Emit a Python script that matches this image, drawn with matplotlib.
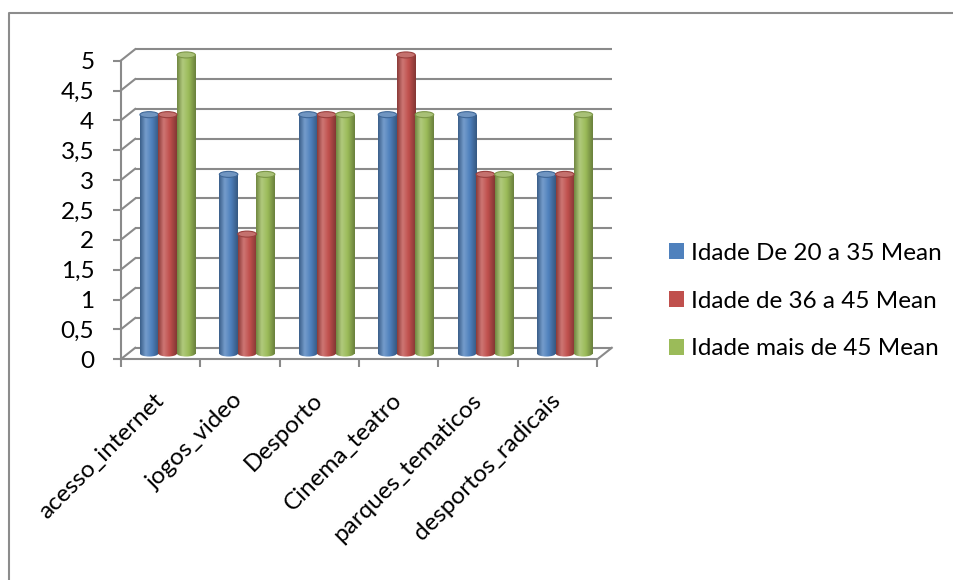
import matplotlib
matplotlib.use("Agg")
import matplotlib.pyplot as plt
import numpy as np
from matplotlib.colors import LinearSegmentedColormap, to_rgb
from matplotlib.patches import Ellipse, Patch
from matplotlib.lines import Line2D

categories = ["acesso_internet", "jogos_video", "Desporto", "Cinema_teatro",
              "parques_tematicos", "desportos_radicais"]
series_names = ["Idade De 20 a 35 Mean", "Idade de 36 a 45 Mean", "Idade mais de 45 Mean"]
age_20_35 = [4, 3, 4, 4, 4, 3]
age_36_45 = [4, 2, 4, 5, 3, 3]
age_45_plus = [5, 3, 4, 4, 3, 4]
y_ticks = [0, 0.5, 1, 1.5, 2, 2.5, 3, 3.5, 4, 4.5, 5]
y_tick_labels = ["0", "0,5", "1", "1,5", "2", "2,5", "3", "3,5", "4", "4,5", "5"]

colors = ["#4F81BD", "#C0504D", "#9BBB59"]
grid_color = "#8a8a8a"
font = "Lato"
fsize = 17.5

W, H, DPI = 954, 580, 100
fig = plt.figure(figsize=(W / DPI, H / DPI), dpi=DPI)

# front plane of the 3-D box (pixels from top-left)
left_px, right_px = 120.7, 597.3
base_px, top_px = 359.3, 60.7
ax = fig.add_axes([left_px / W, 1 - base_px / H,
                   (right_px - left_px) / W, (base_px - top_px) / H])
n = len(categories)
ax.set_xlim(-0.5, n - 0.5)
ax.set_ylim(0, 5)
ax.set_autoscale_on(False)
ax.patch.set_visible(False)

# depth of the box, converted to data units
cat_px = (right_px - left_px) / n
val_px = (base_px - top_px) / 5
ddx = 14.5 / cat_px
ddy = 11.5 / val_px

# back wall and side wall gridlines
for v in y_ticks:
    ax.plot([-0.5 + ddx, n - 0.5 + ddx], [v + ddy, v + ddy], color=grid_color,
            lw=1.5, zorder=1, clip_on=False, solid_capstyle="butt")
    ax.plot([-0.5, -0.5 + ddx], [v, v + ddy], color=grid_color,
            lw=1.5, zorder=1, clip_on=False)
# right edge of the floor
ax.plot([n - 0.5, n - 0.5 + ddx], [0, ddy], color=grid_color, lw=1.5,
        zorder=1, clip_on=False)

# front axes
for side in ["top", "right"]:
    ax.spines[side].set_visible(False)
for side in ["left", "bottom"]:
    ax.spines[side].set_color(grid_color)
    ax.spines[side].set_linewidth(1.5)

ax.set_yticks(y_ticks)
ax.set_yticklabels(y_tick_labels, fontsize=fsize, family=font)
ax.tick_params(axis="y", length=6, width=1.5, color=grid_color, pad=13)

ax.set_xticks(np.arange(n + 1) - 0.5)
ax.set_xticklabels([])
ax.tick_params(axis="x", which="major", length=6, width=1.5, color=grid_color)
ax.set_xticks(np.arange(n), minor=True)
ax.set_xticklabels(categories, minor=True, fontsize=fsize, family=font,
                   rotation=45, ha="right", va="center", rotation_mode="anchor")
ax.tick_params(axis="x", which="minor", length=0, pad=27)

# cylinder bars
bw = 18.5 / cat_px
ell_h = 6 / val_px
grad = np.linspace(0, 1, 64)[None, :]
series = [age_20_35, age_36_45, age_45_plus]
for j, (vals, c) in enumerate(zip(series, colors)):
    rgb = np.array(to_rgb(c))
    light = rgb + (1 - rgb) * 0.22
    cmap = LinearSegmentedColormap.from_list(
        "cyl%d" % j,
        [(0, rgb * 0.72), (0.3, light), (0.62, rgb), (1, rgb * 0.68)])
    x = np.arange(n) + (j - 1) * bw + ddx / 2
    bars = ax.bar(x, vals, width=bw, bottom=ddy / 2, color="none",
                  edgecolor="none", zorder=3)
    for rect in bars:
        x0 = rect.get_x()
        y0 = rect.get_y()
        h = rect.get_height()
        bottom_cap = Ellipse((x0 + bw / 2, y0), bw, ell_h, facecolor="none",
                             edgecolor="none")
        ax.add_patch(bottom_cap)
        for clip in (rect, bottom_cap):
            im = ax.imshow(grad, cmap=cmap, aspect="auto", zorder=3,
                           extent=[x0, x0 + bw, y0 - ell_h, y0 + h],
                           interpolation="bicubic")
            im.set_clip_path(clip)
        ax.add_patch(Ellipse((x0 + bw / 2, y0 + h), bw, ell_h,
                             facecolor=light * 0.95, edgecolor=rgb * 0.8,
                             lw=0.8, zorder=4, clip_on=False))

ax.set_xlim(-0.5, n - 0.5)
ax.set_ylim(0, 5)

# legend
handles = [Patch(facecolor=c, edgecolor="none") for c in colors]
fig.legend(handles, series_names, loc="center left",
           bbox_to_anchor=(669 / W, 1 - 301 / H), frameon=False,
           prop={"family": font, "size": fsize},
           handlelength=0.62, handleheight=0.62, handletextpad=0.3,
           labelspacing=1.1, borderpad=0, borderaxespad=0)

# chart area border (left and top edges)
border_x, border_y = 9.5 / W, 1 - 13 / H
fig.add_artist(Line2D([border_x, border_x, 1.01], [-0.01, border_y, border_y],
                      transform=fig.transFigure, color="#8c8c8c", lw=1.5))

fig.savefig("out.png", dpi=DPI)
